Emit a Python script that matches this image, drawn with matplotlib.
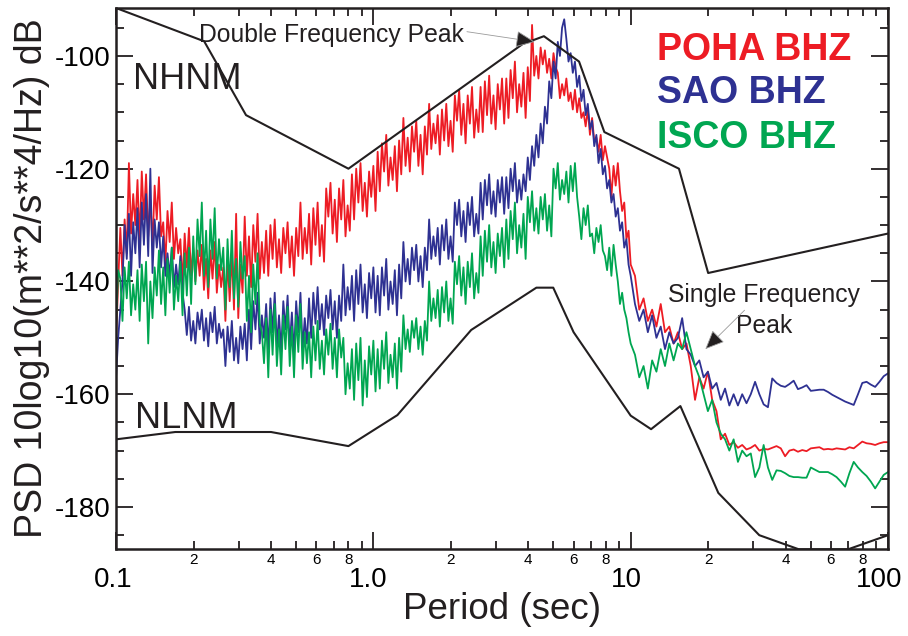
import numpy as np
import matplotlib
matplotlib.use('Agg')
import matplotlib.pyplot as plt
import matplotlib.transforms as mtransforms
from matplotlib.ticker import MultipleLocator

plt.rcParams['font.family'] = 'Liberation Sans'
plt.rcParams['axes.unicode_minus'] = False

# periods of the PSD estimates: 120 per decade up to 10 s, 60 per decade above
period = np.concatenate([np.logspace(-1, 1, 241), np.logspace(1, 2, 61)[1:]])

poha_dense = [
    -150, -140, -130.5, -139, -129, -135, -119, -131.5, -124.5, -130,
    -122, -133, -120.5, -129, -121, -132, -125.5, -133.5, -123, -129,
    -121.5, -132, -129.5, -137, -127.5, -133, -126, -136, -130.5, -135,
    -132.5, -140.5, -131.5, -137.5, -130.5, -139, -134, -140, -134.5, -139,
    -133.5, -141.5, -136, -143, -134.5, -139.5, -133, -142, -137, -141,
    -137.5, -147, -136, -143.5, -135, -145, -128, -146.5, -137, -142,
    -128.5, -139, -132, -141, -130, -136.5, -128, -139.5, -133, -138.5,
    -131, -139, -130, -136, -129, -137.5, -132.5, -138.5, -130.5, -135,
    -129.5, -137.5, -132, -139, -130.5, -135.5, -126, -136, -130.5, -135,
    -128, -137, -127, -133.5, -126, -135.5, -130, -136.5, -123.5, -128.5,
    -122.5, -131.5, -125.5, -133, -123.5, -129, -122, -132, -126.5, -131,
    -121, -129, -120, -126, -119, -127.5, -122.5, -128.5, -120.5, -125,
    -119.5, -127.5, -117, -124, -115.5, -120.5, -114, -123, -118, -122,
    -116, -124, -115, -121, -111, -119.5, -114.5, -120.5, -112.5, -117,
    -111.5, -119.5, -114, -121, -112.5, -117.5, -108.5, -116.5, -112, -115.5,
    -110.5, -117.5, -109.5, -115, -108.5, -116, -111.5, -117, -107, -111.5,
    -106, -114, -108.5, -115.5, -107, -112, -105.5, -114.5, -109.5, -113.5,
    -105.5, -113.5, -104.5, -110.5, -103.5, -112, -107, -113, -105, -109.5,
    -104, -112, -104, -111, -102.5, -107.5, -101, -110, -105, -109,
    -103, -111, -102, -108, -94.5, -103.5, -100, -104, -98.5, -101.5,
    -99, -103, -100.5, -104, -99.5, -102, -103, -107.5, -105, -107,
    -104, -108, -106.5, -109.5, -106, -110, -107.5, -111, -110, -112.5,
    -109.5, -114, -111, -115, -114.5, -117, -114, -118.5, -116, -118,
    -120, -125, -119.5, -123, -119, -124, -127.5, -126, -132.5, -131,
    -137]
poha_tail = [
    -139, -145, -143, -147, -145, -148, -144, -149, -148, -151,
    -149, -152, -151, -155, -161, -157, -159, -156, -161, -163,
    -168, -167, -169, -168.5, -169.5, -169, -169.8, -169.5, -169, -170,
    -169.7, -169.8, -169.5, -169.2, -169.6, -171, -170, -169.8, -170.2, -169.9,
    -170.1, -169.6, -169.5, -169.4, -169.8, -169.7, -169.8, -169.6, -169.7, -169.8,
    -169.4, -169.6, -169, -168.4, -168.7, -168.8, -169, -168.7, -168.5, -168.5]

sao_dense = [
    -157, -150, -145, -140, -130, -136, -128, -139, -129.5, -135,
    -127, -137.5, -126, -133.5, -124.5, -135.5, -120, -138.5, -129, -134,
    -129.5, -137.5, -132, -139, -135, -139, -134, -141, -137, -140.5,
    -135.5, -142, -145, -149.5, -144.5, -150.5, -147, -151, -145.5, -148.5,
    -145, -150.5, -146.5, -151.5, -145.5, -149, -144.5, -151, -147.5, -150,
    -148.5, -155, -148, -152.5, -147, -154, -150, -154.5, -148, -152,
    -147.5, -154, -145, -152, -143.5, -148.5, -142, -151, -146, -150,
    -144, -152, -143, -149, -142, -151.5, -146, -152.5, -143.5, -148.5,
    -142.5, -151.5, -145.5, -153, -143.5, -149, -142, -152, -146.5, -151,
    -143, -150, -142, -147.5, -141, -148.5, -144, -149.5, -142.5, -146.5,
    -141.5, -148.5, -143.5, -150, -142.5, -147, -137, -146, -141, -145,
    -139, -147, -138, -144, -137, -145.5, -140.5, -146.5, -138.5, -143,
    -137.5, -145.5, -139, -146, -137.5, -142.5, -136, -145, -140, -144,
    -138, -146, -137, -143, -133, -140, -136, -140.5, -134, -138,
    -133.5, -140, -135.5, -141, -134, -138, -129, -136, -132, -135.5,
    -130.5, -137, -130, -134.5, -129, -136, -132, -136.5, -126, -130,
    -125.5, -132, -127.5, -133, -126, -130, -125, -132, -128, -131.5,
    -122.5, -129, -122, -126.5, -121, -128, -124, -128.5, -122, -126,
    -121.5, -128, -121.5, -127, -120, -124, -119, -126, -122, -125.5,
    -121, -124, -118, -122, -116, -119.5, -114, -118, -112, -115.5,
    -109, -112, -104.5, -107.5, -101, -104, -97.5, -100, -95, -93.5,
    -97, -101, -99.5, -103, -101, -105.5, -103.5, -108, -106, -110.5,
    -108.5, -113, -111.5, -116, -114, -119, -116.5, -121, -119.5, -123.5,
    -122, -126, -124.5, -128.5, -127, -131, -129.5, -134, -132.5, -137,
    -139]
sao_tail = [
    -144, -147, -145, -149, -146, -150, -148, -152, -149, -151,
    -150, -146.5, -152, -153, -155, -154, -157, -156, -159, -158,
    -161, -159, -162, -160, -162, -160, -161.6, -160, -157.8, -160,
    -161.8, -162.3, -157.2, -158, -158.5, -158.7, -158.2, -157.6, -159.1, -158.8,
    -158.4, -159.4, -159.3, -159.2, -159.2, -159.6, -160.1, -160.5, -160.9, -161.3,
    -161.6, -161.9, -160, -158, -157.8, -158.3, -158.7, -157.8, -156.8, -156.3]

isco_dense = [
    -148, -138, -139.5, -147, -137.5, -143, -136.5, -146, -140.5, -145,
    -138, -147, -137, -143.5, -136.5, -151, -140, -146.5, -137.5, -142.5,
    -134.5, -144, -137.5, -146, -136, -142, -134, -145, -139, -143.5,
    -136.5, -146, -135, -142.5, -134, -144, -132, -140.5, -129, -135.5,
    -126, -139, -131, -141, -129, -136, -127, -139.5, -132.5, -138,
    -134, -145, -132.5, -141, -131, -143, -136, -144.5, -133, -139.5,
    -135.5, -147, -139, -149, -137, -144, -135, -147.5, -149, -154.5,
    -146.5, -157, -145, -153, -144, -155, -148.5, -156.5, -146, -152,
    -144.5, -155, -148, -157, -146, -152.5, -144, -155.5, -149, -154.5,
    -149, -157, -148, -154, -147, -155.5, -150.5, -156.5, -148.5, -153,
    -147.5, -155.5, -150, -157, -148.5, -153.5, -150, -160, -154.5, -159,
    -152, -161, -151, -157.5, -150, -162, -154, -160.5, -151.5, -156.5,
    -150.5, -159.5, -152, -159, -150.5, -155.5, -149, -158, -153, -157,
    -151, -159, -150, -156, -146, -152, -148.5, -152.5, -147, -150,
    -146.5, -152, -148, -153, -147, -150.5, -140, -147, -143, -146.5,
    -141.5, -148, -141, -145.5, -140, -147, -143, -147.5, -136.5, -140.5,
    -135.5, -142.5, -137.5, -144, -136.5, -141, -135, -143, -138.5, -142,
    -132, -139, -131, -136.5, -130, -137.5, -133, -138.5, -131.5, -135.5,
    -130.5, -137.5, -129, -136, -127.5, -132.5, -126, -135, -130, -134,
    -128, -136, -125, -129.5, -124, -131, -127, -131.5, -125, -129,
    -124.5, -131, -126.5, -132, -120, -123.5, -119, -125.5, -122, -124.5,
    -120.5, -126, -119.5, -124, -119, -125, -128.5, -132.5, -127, -130,
    -126.5, -132, -131.5, -135, -130.5, -133, -130, -134.5, -135.5, -138,
    -134, -139, -133.5, -137, -140, -144, -142, -145, -146.5, -149,
    -151]
isco_tail = [
    -153, -157, -155, -159, -154, -156, -152, -155, -151, -154,
    -151, -152, -149, -152, -155, -157, -160, -163, -161, -165,
    -167, -168, -170, -168, -172, -170, -171, -170.5, -174.7, -173,
    -169, -173, -175.2, -173.5, -173.6, -174, -174.5, -174.7, -174.7, -174.8,
    -174.8, -173, -173.4, -173.8, -173.8, -173.8, -174.2, -174.7, -175.5, -176.4,
    -174, -172, -173, -173.8, -174.5, -175.5, -176.7, -175.5, -174.3, -173.8]

# Peterson (1993) new high / low noise models
nhnm_period = [0.1, 0.22, 0.32, 0.8, 3.8, 4.6, 6.3, 7.9, 15.4, 20.0, 100.0]
nhnm_db = [-91.5, -97.4, -110.5, -120.0, -97.9, -96.5, -101.0, -113.5, -120.0, -138.5, -131.5]
nlnm_period = [0.1, 0.17, 0.4, 0.8, 1.24, 2.4, 4.3, 5.0, 6.0, 10.0, 12.0, 15.6, 21.9,
               31.6, 45.0, 70.0, 100.0]
nlnm_db = [-168.0, -166.7, -166.7, -169.2, -163.7, -148.6, -141.1, -141.1, -149.0, -163.8,
           -166.2, -162.1, -177.5, -185.0, -187.5, -187.5, -185.0]

stations = ['POHA BHZ', 'SAO BHZ', 'ISCO BHZ']
psd = [poha_dense + poha_tail, sao_dense + sao_tail, isco_dense + isco_tail]
colors = ['#ED1C24', '#2E3192', '#00A651']
ink = '#231F20'

fig = plt.figure(figsize=(9.08, 6.36), dpi=100)
ax = fig.add_axes([0.1278, 0.1368, 0.8502, 0.8506])

for series, c in zip(psd, colors):
    ax.plot(period, series, color=c, lw=1.3)

ax.plot(nhnm_period, nhnm_db, color=ink, lw=1.5)
ax.plot(nlnm_period, nlnm_db, color=ink, lw=1.5)

ax.set_xscale('log')
ax.set_xlim(0.1, 100)
ax.set_ylim(-187.45, -91.5)

ax.set_xticks([0.1, 1, 10, 100])
ax.set_xticklabels(['0.1', '1.0', '10', '100'], fontsize=20)
minor = [m * 10.0 ** e for e in (-1, 0, 1) for m in range(2, 10)]
ax.set_xticks(minor, minor=True)
ax.set_xticklabels([str(m) if m in (2, 4, 6, 8) else '' for e in (-1, 0, 1)
                    for m in range(2, 10)], minor=True, fontsize=11)

yt = [-180, -160, -140, -120, -100]
ax.set_yticks(yt)
ax.set_yticklabels([str(v) for v in yt], fontsize=20)
ax.yaxis.set_minor_locator(MultipleLocator(5))

ax.tick_params(which='both', direction='in', top=True, right=True, width=1.3, color=ink)
ax.tick_params(which='major', length=12)
ax.tick_params(which='minor', length=6)
ax.tick_params(axis='x', which='major', pad=13)
ax.tick_params(axis='x', which='minor', pad=3)
ax.tick_params(axis='y', which='major', pad=4)
for s in ax.spines.values():
    s.set_linewidth(1.8)
    s.set_color(ink)

# decade labels sit a little left of their ticks
for lab, dx in zip(ax.get_xticklabels(), [-3, -5, -4.5, -9]):
    lab.set_transform(lab.get_transform() +
                      mtransforms.ScaledTranslation(dx / 100, 0, fig.dpi_scale_trans))

ax.set_xlabel('Period (sec)', fontsize=26.5, color=ink)
ax.set_ylabel('PSD 10log10(m**2/s**4/Hz) dB', fontsize=27, color=ink)
ax.xaxis.set_label_coords(0.5, -0.08)
ax.yaxis.set_label_coords(-0.086, 0.5)

for k, (name, c) in enumerate(zip(stations, colors)):
    ax.text(0.7008, [0.904, 0.8244, 0.7412][k], name, transform=ax.transAxes,
            color=c, fontsize=27, fontweight='bold', va='baseline')

ax.text(0.022, 0.8503, 'NHNM', transform=ax.transAxes, fontsize=26, color=ink, va='baseline')
ax.text(0.0246, 0.2237, 'NLNM', transform=ax.transAxes, fontsize=26, color=ink, va='baseline')

arrow = dict(arrowstyle='-|>,head_length=0.8,head_width=0.35', mutation_scale=15,
             lw=0.6, edgecolor='#9A9A9A', facecolor=ink, shrinkA=0, shrinkB=0)
ax.text(0.21, -97.5, 'Double Frequency Peak', fontsize=17.8, color=ink, va='baseline')
ax.annotate('', xy=(4.24, -97.5), xytext=(2.31, -95.7), arrowprops=arrow)
ax.text(32.9, -140.3, 'Single Frequency\nPeak', fontsize=17.8, color=ink,
        ha='center', va='top', linespacing=1.35)
ax.annotate('', xy=(19.5, -152.0), xytext=(27.7, -145.1), arrowprops=arrow)

fig.savefig('out.png', dpi=100)
